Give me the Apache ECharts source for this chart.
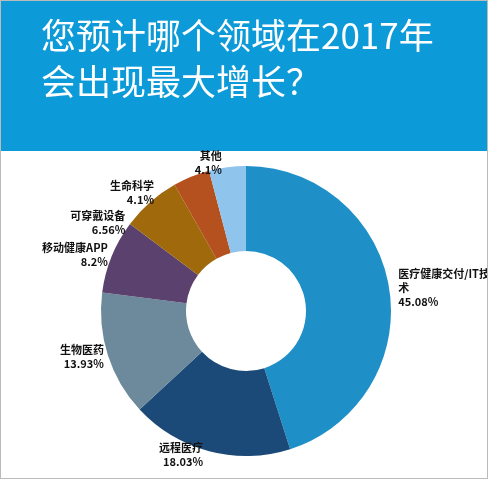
<!DOCTYPE html>
<html><head><meta charset="utf-8">
<script src="https://cdn.jsdelivr.net/npm/echarts@6/dist/echarts.min.js"></script>
<style>html,body{margin:0;padding:0;background:#fff}#c{width:488px;height:479px;box-sizing:border-box;border:1px solid #bbb}</style>
</head><body><div id="c"></div>
<script>
const categories = ['医疗健康交付/IT技\n术','远程医疗','生物医药','移动健康APP','可穿戴设备','生命科学','其他'];
const values = [45.08, 18.03, 13.93, 8.2, 6.56, 4.1, 4.1];
const colors = ['#1f8fc8','#1b4a78','#6c8a9b','#5b416e','#a0690c','#b5511e','#8fc4ec'];
const titleLines = ['您预计哪个领域在2017年','会出现最大增长？'];
const chart = echarts.init(document.getElementById('c'));
chart.setOption({
  animation:false,
  graphic:[
    {type:'rect',left:0,top:0,shape:{width:488,height:150},style:{fill:'#0d9ad8'}},
    {type:'text',left:40,top:12,style:{text:titleLines.join('\n'),fill:'#fff',font:'35px "Noto Sans CJK SC"',lineHeight:46}}
  ],
  series:[{
    type:'pie',center:[245,310],radius:[60,145],startAngle:90,
    data:categories.map((n,i)=>({name:n,value:values[i],itemStyle:{color:colors[i]}})),
    label:{show:true,position:'outside',color:'#111',fontSize:11,fontWeight:'bold',lineHeight:14,
      align:'center',overflow:'none',
      fontFamily:'"Noto Sans CJK SC"',formatter:p=>p.name+'\n'+p.value+'%'},
    labelLine:{show:false,length:4,length2:0},
    itemStyle:{borderColor:'#fff',borderWidth:0}
  }]
});
</script></body></html>
